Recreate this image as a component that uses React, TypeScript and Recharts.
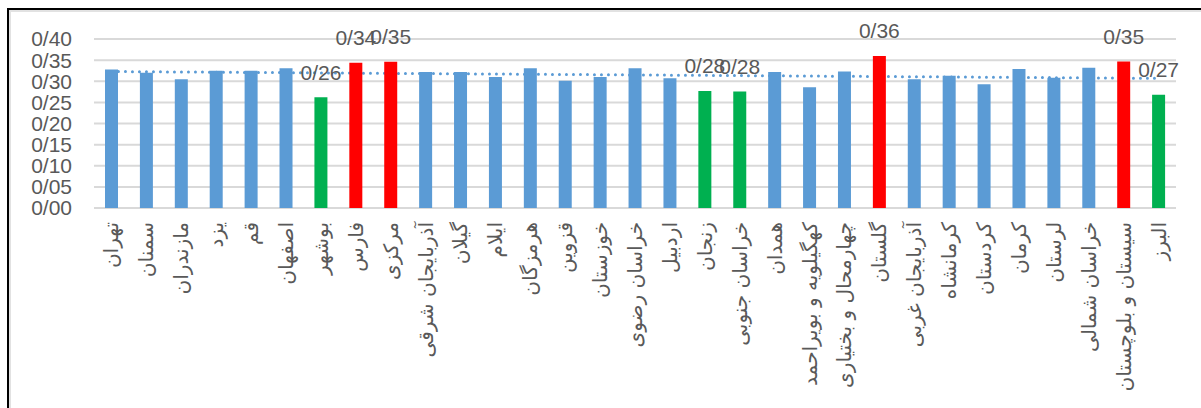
import React from "react";
import {
  ComposedChart,
  Bar,
  Line,
  Cell,
  XAxis,
  YAxis,
  CartesianGrid,
  LabelList,
} from "recharts";

const provinces = [
  "تهران",
  "سمنان",
  "مازندران",
  "یزد",
  "قم",
  "اصفهان",
  "بوشهر",
  "فارس",
  "مرکزی",
  "آذربایجان شرقی",
  "گیلان",
  "ایلام",
  "هرمزگان",
  "قزوین",
  "خوزستان",
  "خراسان رضوی",
  "اردبیل",
  "زنجان",
  "خراسان جنوبی",
  "همدان",
  "کهگیلویه و بویراحمد",
  "چهارمحال و بختیاری",
  "گلستان",
  "آذربایجان غربی",
  "کرمانشاه",
  "کردستان",
  "کرمان",
  "لرستان",
  "خراسان شمالی",
  "سیستان و بلوچستان",
  "البرز",
];

const values = [
  0.328, 0.32, 0.305, 0.325, 0.325, 0.331, 0.262, 0.344, 0.346, 0.322, 0.322,
  0.31, 0.331, 0.301, 0.31, 0.331, 0.307, 0.277, 0.276, 0.322, 0.286, 0.323,
  0.36, 0.305, 0.313, 0.293, 0.329, 0.308, 0.332, 0.347, 0.268,
];

// "b" = normal, "r" = high (red), "g" = low (green)
const groups = [
  "b", "b", "b", "b", "b", "b", "g", "r", "r", "b", "b",
  "b", "b", "b", "b", "b", "b", "g", "g", "b", "b", "b",
  "r", "b", "b", "b", "b", "b", "b", "r", "g",
];

const yTicks = [0, 0.05, 0.1, 0.15, 0.2, 0.25, 0.3, 0.35, 0.4];

// linear trend line: value at first and at last category
const trendFirst = 0.323;
const trendLast = 0.307;

const groupColors: Record<string, string> = {
  b: "#5B9BD5",
  r: "#FF0000",
  g: "#00B050",
};

const data = provinces.map((name, i) => ({
  name,
  value: values[i],
  group: groups[i],
  trend: i === 0 ? trendFirst : i === provinces.length - 1 ? trendLast : null,
}));

const fmt = (v: number) => v.toFixed(2).replace(".", "/");

const XTick = (props: any) => {
  const { x, y, payload } = props;
  return (
    <g transform={`translate(${x},${y + 6})`}>
      <text
        transform="rotate(-90)"
        x={0}
        y={0}
        textAnchor="end"
        dominantBaseline="central"
        fontFamily="DejaVu Sans"
        fontSize={20}
        fill="#595959"
      >
        {payload.value}
      </text>
    </g>
  );
};

const BarLabel = (props: any) => {
  const { x, y, width, index, value } = props;
  if (groups[index] === "b") return null;
  return (
    <text
      x={x + width / 2}
      y={y - 25}
      textAnchor="middle"
      dominantBaseline="central"
      fontFamily="Liberation Sans"
      fontSize={21}
      fill="#595959"
    >
      {fmt(value)}
    </text>
  );
};

export default function App() {
  return (
    <div
      style={{
        position: "absolute",
        left: 0,
        top: 0,
        width: 1201,
        height: 408,
        overflow: "hidden",
        background: "#fff",
      }}
    >
      <div
        style={{
          position: "absolute",
          left: 7,
          top: 8,
          width: 1400,
          height: 600,
          borderLeft: "2px solid #000",
          borderTop: "2px solid #000",
          boxShadow: "inset 2px 2px 0 #e2e2e2",
        }}
      />
      <div style={{ position: "absolute", left: 0, top: 0 }}>
        <ComposedChart
          width={1201}
          height={408}
          data={data}
          margin={{ top: 39, right: 25, left: 0, bottom: 0 }}
        >
          <CartesianGrid
            vertical={false}
            stroke="#D9D9D9"
            strokeWidth={2}
          />
          <XAxis
            dataKey="name"
            interval={0}
            height={200}
            axisLine={false}
            tickLine={false}
            tick={<XTick />}
          />
          <YAxis
            width={94}
            domain={[0, 0.4]}
            ticks={yTicks}
            interval={0}
            axisLine={false}
            tickLine={false}
            tickMargin={16}
            tickFormatter={fmt}
            tick={{
              fontFamily: "Liberation Sans",
              fontSize: 21,
              fill: "#595959",
            }}
          />
          <Line
            dataKey="trend"
            connectNulls
            dot={false}
            activeDot={false}
            zIndex={250}
            stroke="#5B9BD5"
            strokeWidth={3}
            strokeDasharray="0 7"
            strokeLinecap="round"
            isAnimationActive={false}
          />
          <Bar dataKey="value" barSize={13} isAnimationActive={false}>
            {data.map((d, i) => (
              <Cell key={i} fill={groupColors[d.group]} />
            ))}
            <LabelList dataKey="value" content={<BarLabel />} />
          </Bar>
        </ComposedChart>
      </div>
    </div>
  );
}
